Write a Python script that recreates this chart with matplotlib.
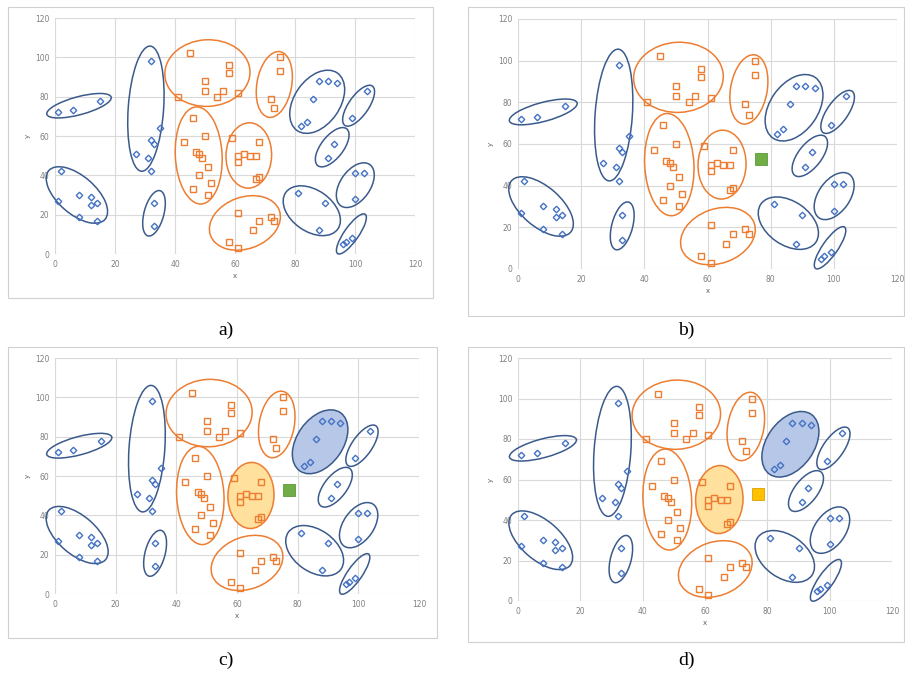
import matplotlib
matplotlib.use("Agg")
import matplotlib.pyplot as plt
from matplotlib.patches import Ellipse, Rectangle
from matplotlib.transforms import Affine2D

# blue diamonds
blue_x = [1, 6, 15, 1, 2, 8, 8, 12, 12, 14, 14,
          32, 27, 31, 32, 33, 35, 32, 33, 33,
          82, 84, 86, 88, 91, 94, 99, 104, 91, 93,
          100, 103, 100, 81, 90, 88, 96, 97, 99]
blue_y = [72, 73, 78, 27, 42, 30, 19, 29, 25, 26, 17,
          98, 51, 49, 58, 56, 64, 42, 26, 14,
          65, 67, 79, 88, 88, 87, 69, 83, 49, 56,
          41, 41, 28, 31, 26, 12, 5, 6, 8]

# orange squares
orange_x = [45, 58, 58, 50, 50, 41, 54, 56, 61,
            75, 75, 72, 73,
            46, 50, 43, 47, 48, 49, 51, 48, 52, 46, 51,
            59, 61, 63, 65, 67, 61, 68, 67, 68,
            61, 68, 72, 73, 66, 58, 61]
orange_y = [102, 96, 92, 88, 83, 80, 80, 83, 82,
            100, 93, 79, 74,
            69, 60, 57, 52, 51, 49, 44, 40, 36, 33, 30,
            59, 50, 51, 50, 50, 47, 57, 38, 39,
            21, 17, 19, 17, 12, 6, 3]

new_x, new_y = 77, 53

# cluster outlines: centre (x, y), semi axes in x units, angle on screen, group
clusters = [
    (8.0, 75.4, 11.1, 3.0, 15, "blue"),
    (7.3, 30.0, 12.4, 6.3, -41, "blue"),
    (30.3, 73.9, 20.9, 5.9, 86, "blue"),
    (33.0, 20.7, 7.8, 3.3, 75, "blue"),
    (50.8, 92.0, 14.2, 11.1, 3, "orange"),
    (73.1, 86.2, 11.1, 5.8, 80, "orange"),
    (47.9, 50.1, 16.2, 7.8, 93, "orange"),
    (64.6, 50.1, 10.9, 7.6, 88, "orange"),
    (63.3, 15.8, 12.2, 8.6, 20, "orange"),
    (87.4, 77.4, 11.7, 7.6, 55, "blue"),
    (101.2, 75.4, 8.0, 3.3, 55, "blue"),
    (92.4, 54.3, 7.8, 3.7, 52, "blue"),
    (100.1, 35.0, 8.4, 5.0, 55, "blue"),
    (85.6, 22.0, 10.6, 6.9, -35, "blue"),
    (98.8, 10.2, 8.0, 2.4, 55, "blue"),
]

line_col = {"blue": "#3B5A8C", "orange": "#ED7D31"}
fill_col = {"blue": "#B7C7E7", "orange": "#FFE09C"}

fig = plt.figure(figsize=(9.05, 6.80), dpi=100)
W, H = 905, 680

panels = [
    # label, axes box (px), frame box (px), caption pos, extra marker, filled clusters
    ("a)", (55, 18, 415, 254), (8, 7, 433, 298), (226, 330), None, []),
    ("b)", (518, 19, 897, 269), (468, 7, 904, 316), (686, 330), "#70AD47", []),
    ("c)", (55, 358, 419, 594), (8, 347, 437, 638), (226, 660), "#70AD47", [7, 9]),
    ("d)", (518, 358, 892, 601), (468, 347, 904, 642), (686, 660), "#FFC000", [7, 9]),
]

for label, box, frame, cap, extra, filled in panels:
    fig.patches.append(Rectangle((frame[0] / W, 1 - frame[3] / H),
                                 (frame[2] - frame[0]) / W, (frame[3] - frame[1]) / H,
                                 transform=fig.transFigure, fill=False,
                                 edgecolor="#D0D0D0", linewidth=0.8))
    x0, y0, x1, y1 = box
    ax = fig.add_axes([x0 / W, 1 - y1 / H, (x1 - x0) / W, (y1 - y0) / H])
    ax.set_xlim(0, 120)
    ax.set_ylim(0, 120)
    ax.set_xticks(range(0, 121, 20))
    ax.set_yticks(range(0, 121, 20))
    ax.grid(True, color="#D9D9D9", linewidth=0.8)
    ax.set_axisbelow(True)
    for s in ax.spines.values():
        s.set_visible(False)
    ax.tick_params(length=0, labelsize=5.5, labelcolor="#808080", pad=4)
    ax.set_xlabel("x", fontsize=5, color="#606060", labelpad=3)
    ax.set_ylabel("y", fontsize=5, color="#606060", labelpad=3)

    # ratio of y to x units on screen
    k = ((y1 - y0) / 120) / ((x1 - x0) / 120)
    for i, (cx, cy, a, b, ang, grp) in enumerate(clusters):
        tr = Affine2D().scale(1, 1 / k).translate(cx, cy) + ax.transData
        e = Ellipse((0, 0), 2 * a, 2 * b, angle=ang, transform=tr,
                    edgecolor=line_col[grp], linewidth=1.1,
                    facecolor=fill_col[grp] if i in filled else "none",
                    zorder=2, clip_on=False)
        ax.add_patch(e)

    ax.plot(blue_x, blue_y, "D", markersize=3.3, markerfacecolor="none",
            markeredgecolor="#4472C4", markeredgewidth=1.0, zorder=3, clip_on=False)
    ax.plot(orange_x, orange_y, "s", markersize=4.3, markerfacecolor="none",
            markeredgecolor="#ED7D31", markeredgewidth=1.0, zorder=3, clip_on=False)
    if extra:
        ax.plot([new_x], [new_y], "s", markersize=8.5, markerfacecolor=extra,
                markeredgecolor="#D9A200" if extra == "#FFC000" else "#5A9A3A",
                markeredgewidth=0.6, zorder=4)

    fig.text(cap[0] / W, 1 - cap[1] / H, label, ha="center", va="center",
             fontsize=14, family="Liberation Serif")

fig.savefig("out.png", dpi=100)
